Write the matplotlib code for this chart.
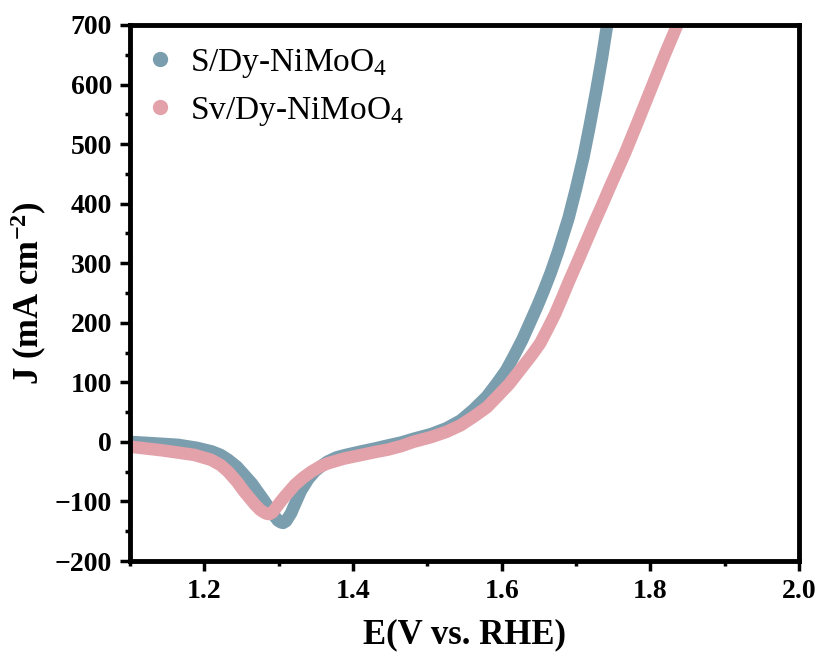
import matplotlib
matplotlib.use("Agg")
import matplotlib.pyplot as plt
from matplotlib.ticker import MultipleLocator
import numpy as np

# ---- data ----
s_dy_E = [1.100, 1.140, 1.165, 1.190, 1.210, 1.222, 1.232, 1.244, 1.254, 1.264,
          1.272, 1.280, 1.286, 1.293, 1.299, 1.303, 1.306, 1.310, 1.313, 1.317,
          1.320, 1.325, 1.330, 1.340, 1.349, 1.358, 1.366, 1.378, 1.390, 1.411,
          1.430, 1.447, 1.465, 1.481, 1.505, 1.526, 1.545, 1.562, 1.580, 1.594,
          1.606, 1.616, 1.628, 1.638, 1.648, 1.656, 1.666, 1.676, 1.690, 1.700,
          1.710, 1.718, 1.727, 1.735, 1.742]
s_dy_J = [0, -3, -5, -10, -16, -22, -30, -42, -56, -70,
          -84, -98, -109, -122, -132, -135, -136, -133, -127, -119,
          -110, -96, -82, -62, -49, -40, -33, -26, -22, -16,
          -11, -6, -1, 5, 13, 23, 36, 54, 76, 99,
          120, 143, 172, 200, 228, 252, 284, 320, 376, 425,
          478, 528, 588, 645, 701]

sv_dy_E = [1.100, 1.142, 1.165, 1.187, 1.209, 1.222, 1.232, 1.244, 1.254, 1.262,
           1.268, 1.275, 1.281, 1.285, 1.288, 1.292, 1.295, 1.301, 1.308, 1.315,
           1.322, 1.333, 1.344, 1.355, 1.366, 1.388, 1.411, 1.430, 1.447, 1.465,
           1.481, 1.505, 1.526, 1.545, 1.562, 1.580, 1.594, 1.610, 1.625, 1.640,
           1.652, 1.662, 1.672, 1.681, 1.690, 1.703, 1.714, 1.726, 1.736, 1.746,
           1.756, 1.766, 1.784, 1.802, 1.820, 1.838]
sv_dy_J = [-8, -14, -18, -22, -30, -39, -50, -67, -84, -96,
           -105, -114, -119, -121, -121, -118, -113, -103, -92, -82,
           -72, -60, -50, -42, -36, -28, -22, -17, -13, -7,
           0, 8, 17, 28, 42, 58, 76, 97, 121, 145,
           166, 190, 215, 241, 268, 305, 337, 372, 400, 429,
           457, 485, 540, 596, 652, 705]

labels = ["S/Dy-NiMoO$_4$", "Sv/Dy-NiMoO$_4$"]
colors = ["#7b9eae", "#e3a1aa"]

x_ticks = [1.2, 1.4, 1.6, 1.8, 2.0]
y_ticks = [-200, -100, 0, 100, 200, 300, 400, 500, 600, 700]

plt.rcParams["font.family"] = ["Liberation Serif", "DejaVu Serif"]
plt.rcParams["mathtext.fontset"] = "custom"
plt.rcParams["mathtext.rm"] = "Liberation Serif"
plt.rcParams["mathtext.it"] = "Liberation Serif:italic"
plt.rcParams["mathtext.bf"] = "Liberation Serif:bold"

fig = plt.figure(figsize=(8.2, 6.57), dpi=100)
ax = fig.add_axes([0.1585, 0.1461, 0.8159, 0.8159])

for E, J, c, lab in [(s_dy_E, s_dy_J, colors[0], labels[0]),
                     (sv_dy_E, sv_dy_J, colors[1], labels[1])]:
    ax.plot(E, J, color=c, lw=9, solid_capstyle="round", solid_joinstyle="round")
    ax.plot([], [], ls="none", marker="o", ms=10, color=c, label=lab)

ax.set_xlim(1.1, 2.0)
ax.set_ylim(-200, 700)
ax.set_xticks(x_ticks)
ax.set_yticks(y_ticks)
ax.set_xticklabels([f"{v:.1f}" for v in x_ticks])
ax.set_yticklabels([f"{v}".replace("-", "\u2212") for v in y_ticks])
ax.xaxis.set_minor_locator(MultipleLocator(0.1))
ax.yaxis.set_minor_locator(MultipleLocator(50))

for sp in ax.spines.values():
    sp.set_linewidth(3.5)
ax.tick_params(which="major", direction="out", length=7, width=2.5, labelsize=20, pad=6)
ax.tick_params(which="minor", direction="out", length=3.5, width=2.5)
ax.tick_params(top=False, right=False, which="both")
for lab in ax.get_xticklabels() + ax.get_yticklabels():
    lab.set_fontweight("bold")

ax.set_xlabel("E(V vs. RHE)", fontsize=25, fontweight="bold", labelpad=10)
ax.set_ylabel("J (mA cm$^{\\mathbf{-2}}$)", fontsize=25, fontweight="bold", labelpad=4)

leg = ax.legend(loc="upper left", frameon=False, fontsize=24, handletextpad=0.45,
                borderaxespad=0.2, labelspacing=0.45, handlelength=0.9,
                bbox_to_anchor=(-0.008, 0.997))

fig.savefig("out.png", dpi=100)
